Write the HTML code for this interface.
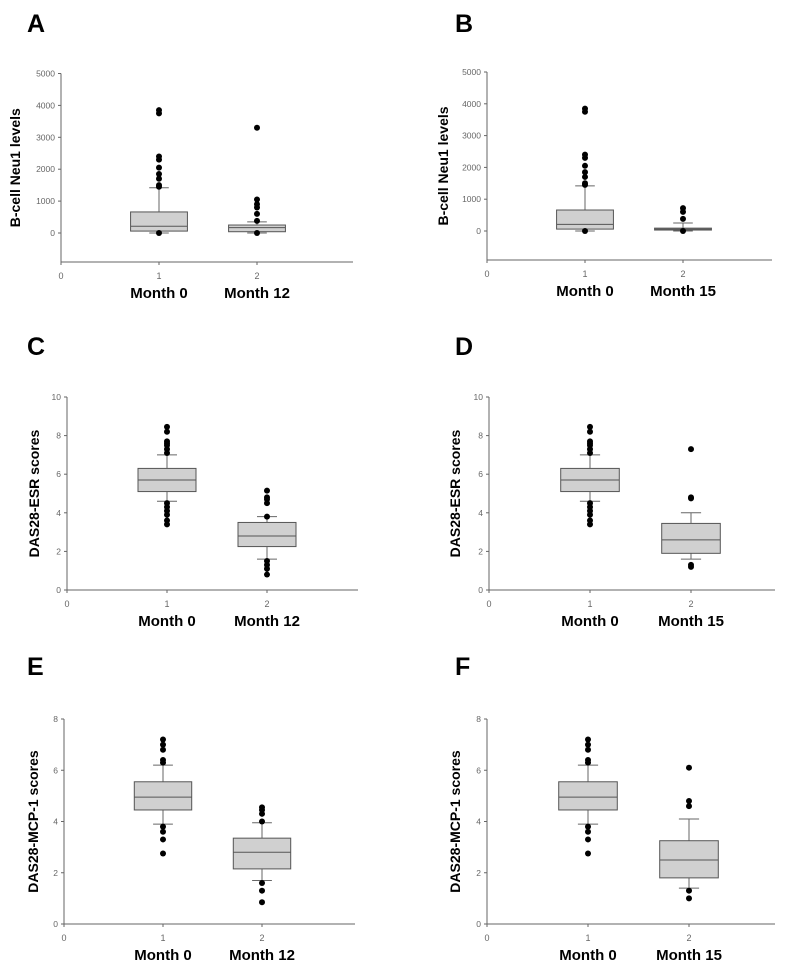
<!DOCTYPE html>
<html><head><meta charset="utf-8"><style>
body{margin:0;background:#fff}
svg{display:block;font-family:"Liberation Sans",Arial,sans-serif}
</style></head><body>
<svg id="fig" width="790" height="970" viewBox="0 0 790 970"></svg>
<script>
const panelLetters=["A","B","C","D","E","F"];
const yTitles=["B-cell Neu1 levels","B-cell Neu1 levels","DAS28-ESR scores","DAS28-ESR scores","DAS28-MCP-1 scores","DAS28-MCP-1 scores"];
const groupLabelsL=["Month 0","Month 12"];
const groupLabelsR=["Month 0","Month 15"];
const yTicksNeu=[0,1000,2000,3000,4000,5000];
const yTicksESR=[0,2,4,6,8,10];
const yTicksMCP=[0,2,4,6,8];
const xTicks=[0,1,2];
// box stats: [whiskerLow, q1, median, q3, whiskerHigh]
const statsA1=[0,60,210,660,1420], statsA2=[0,40,170,250,350];
const outA1=[3850,3750,2400,2300,2050,1850,1700,1500,1450,0], outA2=[3300,1050,900,800,600,380,0];
const statsB1=statsA1, statsB2=[0,30,60,90,250];
const outB1=outA1, outB2=[720,600,380,0];
const statsC1=[4.6,5.1,5.7,6.3,7.0], statsC2=[1.6,2.25,2.8,3.5,3.8];
const outC1=[8.45,8.2,7.7,7.6,7.5,7.3,7.1,4.5,4.3,4.1,3.9,3.6,3.4], outC2=[5.15,4.8,4.7,4.5,3.8,1.5,1.3,1.1,0.8];
const statsD1=statsC1, statsD2=[1.6,1.9,2.6,3.45,4.0];
const outD1=outC1, outD2=[7.3,4.8,4.75,1.3,1.2];
const statsE1=[3.9,4.45,4.95,5.55,6.2], statsE2=[1.7,2.15,2.8,3.35,3.95];
const outE1=[7.2,7.0,6.8,6.4,6.3,3.8,3.6,3.3,2.75], outE2=[4.55,4.45,4.3,4.0,1.6,1.3,0.85];
const statsF1=statsE1, statsF2=[1.4,1.8,2.5,3.25,4.1];
const outF1=outE1, outF2=[6.1,4.8,4.6,1.3,1.0];

const svg=document.getElementById('fig');
const NS="http://www.w3.org/2000/svg";
function el(tag,attrs,parent){const e=document.createElementNS(NS,tag);for(const k in attrs)e.setAttribute(k,attrs[k]);(parent||svg).appendChild(e);return e;}

const layouts=[
 {ax:61,x1:159,xEnd:353,yTop:73.5,y0:233,yBot:262,vTop:5000,vMin:0,ticks:yTicksNeu,stats:[statsA1,statsA2],outs:[outA1,outA2],lbl:groupLabelsL,lx:27,ly:32,tx:15},
 {ax:487,x1:585,xEnd:772,yTop:72,y0:231,yBot:260,vTop:5000,vMin:0,ticks:yTicksNeu,stats:[statsB1,statsB2],outs:[outB1,outB2],lbl:groupLabelsR,lx:455,ly:32,tx:443},
 {ax:67,x1:167,xEnd:358,yTop:397,y0:590,yBot:590,vTop:10,vMin:0,ticks:yTicksESR,stats:[statsC1,statsC2],outs:[outC1,outC2],lbl:groupLabelsL,lx:27,ly:355,tx:34},
 {ax:489,x1:590,xEnd:775,yTop:397,y0:590,yBot:590,vTop:10,vMin:0,ticks:yTicksESR,stats:[statsD1,statsD2],outs:[outD1,outD2],lbl:groupLabelsR,lx:455,ly:355,tx:455},
 {ax:64,x1:163,xEnd:355,yTop:719,y0:924,yBot:924,vTop:8,vMin:0,ticks:yTicksMCP,stats:[statsE1,statsE2],outs:[outE1,outE2],lbl:groupLabelsL,lx:27,ly:675,tx:33},
 {ax:487,x1:588,xEnd:775,yTop:719,y0:924,yBot:924,vTop:8,vMin:0,ticks:yTicksMCP,stats:[statsF1,statsF2],outs:[outF1,outF2],lbl:groupLabelsR,lx:455,ly:675,tx:455}
];

layouts.forEach((L,i)=>{
 const g=el('g',{});
 
 
 const xs=(L.x1-L.ax);
 const xScale=v=>L.ax+v*xs;
 const yScale=v=>L.y0-(v-L.vMin)*(L.y0-L.yTop)/(L.vTop-L.vMin);
 const letter=el('text',{x:L.lx,y:L.ly,'font-size':25,'font-weight':'bold',fill:'#000'},g);
 letter.textContent=panelLetters[i];
 
 
 // axes
 const ya=el('line',{x1:L.ax,y1:L.yTop,x2:L.ax,y2:L.yBot,stroke:'#666','stroke-width':1},g);
 
 
 const xa=el('line',{x1:L.ax,y1:L.yBot,x2:L.xEnd,y2:L.yBot,stroke:'#666','stroke-width':1},g);
 
 
 L.ticks.forEach(t=>{
  const y=yScale(t);
  el('line',{x1:L.ax-3,y1:y,x2:L.ax,y2:y,stroke:'#666'},g);
  const tl=el('text',{x:L.ax-6,y:y+3,'font-size':8.5,fill:'#666','text-anchor':'end'},g);
  tl.textContent=t;
  
  
 });
 xTicks.forEach(t=>{
  const x=xScale(t);
  el('line',{x1:x,y1:L.yBot,x2:x,y2:L.yBot+3,stroke:'#666'},g);
  const tl=el('text',{x:x,y:L.yBot+17,'font-size':9,fill:'#666','text-anchor':'middle'},g);
  tl.textContent=t;
  
  
 });
 const tt=el('text',{x:0,y:0,'font-size':14,'font-weight':'bold',fill:'#000','text-anchor':'middle',transform:`translate(${L.tx+5},${(L.yTop+L.yBot)/2}) rotate(-90)`},g);
 tt.textContent=yTitles[i];
 
 
 L.lbl.forEach((s,k)=>{
  const t=el('text',{x:xScale(k+1),y:L.yBot+36,'font-size':15,'font-weight':'bold',fill:'#000','text-anchor':'middle'},g);
  t.textContent=s;
  
  
 });
 L.stats.forEach((st,k)=>{
  const cx=xScale(k+1), hw=0.29*xs, cap=0.1*xs;
  const [wl,q1,md,q3,wh]=st;
  const bg=el('g',{},g);
  
  
  el('line',{x1:cx,y1:yScale(wh),x2:cx,y2:yScale(q3),stroke:'#666'},bg);
  el('line',{x1:cx,y1:yScale(wl),x2:cx,y2:yScale(q1),stroke:'#666'},bg);
  el('line',{x1:cx-cap,y1:yScale(wh),x2:cx+cap,y2:yScale(wh),stroke:'#666'},bg);
  el('line',{x1:cx-cap,y1:yScale(wl),x2:cx+cap,y2:yScale(wl),stroke:'#666'},bg);
  const b=el('rect',{x:cx-hw,y:yScale(q3),width:2*hw,height:Math.max(1,yScale(q1)-yScale(q3)),fill:'#d0d0d0',stroke:'#555','stroke-width':1},bg);
  
  
  const m=el('line',{x1:cx-hw,y1:yScale(md),x2:cx+hw,y2:yScale(md),stroke:'#555','stroke-width':1},bg);
  
  
  L.outs[k].forEach(v=>{
   const c=el('circle',{cx:cx,cy:yScale(v),r:3,fill:'#000'},bg);
   
   
  });
 });
});
</script>
</body></html>
